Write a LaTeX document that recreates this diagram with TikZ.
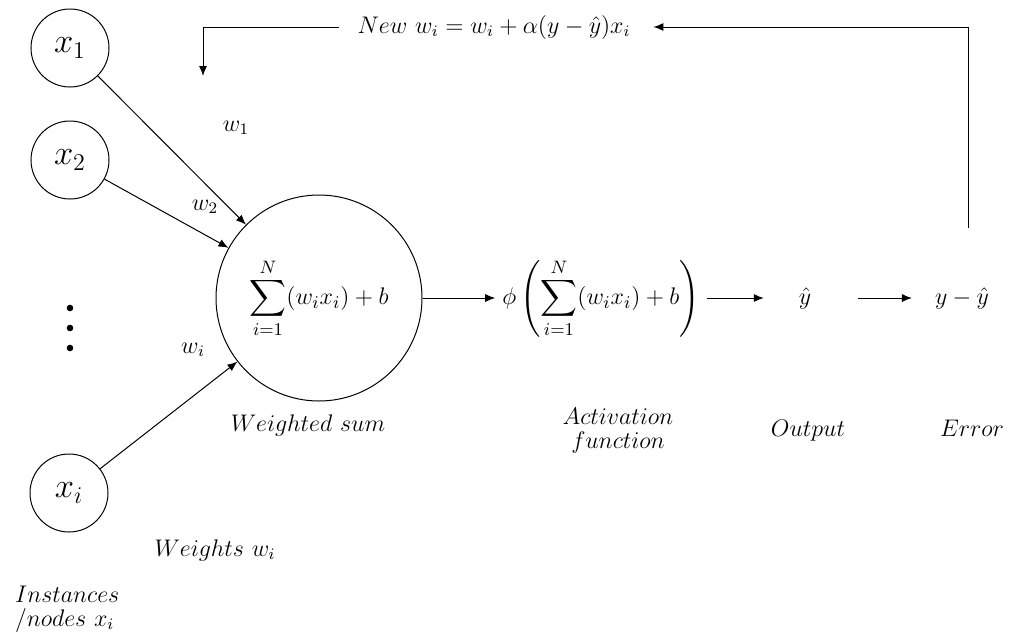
\documentclass[tikz,border=0pt]{standalone}
\usepackage{amsmath}
\usepackage{amssymb}
\usetikzlibrary{arrows.meta,positioning}

\begin{document}
\begin{tikzpicture}[
  x=0.5pt, y=-0.5pt, font=\large,
  arr/.style={-{Latex[length=5pt,width=4pt]}, line width=0.5pt},
  innode/.style={circle, draw, line width=0.5pt, minimum size=39pt, inner sep=0pt, font=\LARGE},
  caption/.style={font=\large, align=center}
]
\useasboundingbox (0,0) rectangle (1011,643);

% Inputs
\node[innode] (x1) at (70,48) {$x_1$};
\node[innode] (x2) at (70,160) {$x_2$};
\node[innode] (xi) at (69,493) {$x_i$};
\foreach \y in {308,328,348} {
  \fill (70,\y) circle (3.3);
}

% Neuron
\node[circle, draw, line width=0.5pt, minimum size=103pt, inner sep=0pt,
      font=\fontsize{12.8}{15}\selectfont] (sum) at (319,298)
  {$\displaystyle\sum_{i=1}^{N}(w_i x_i)+b$};
\node[font=\fontsize{12.8}{15}\selectfont] (act) at (601,298)
  {$\displaystyle\phi\left(\sum_{i=1}^{N}(w_i x_i)+b\right)$};
\node (out) at (805,298) {$\hat{y}$};
\node (err) at (962,298) {$y-\hat{y}$};

% Weighted inputs
\draw[arr] (x1) -- (sum);
\draw[arr] (x2) -- (sum);
\draw[arr] (xi) -- (sum);
\node (w1) at (236,128) {$w_1$};
\node (w2) at (205,207) {$w_2$};
\node (wi) at (193,350) {$w_i$};

% Forward chain
\draw[arr] (sum) -- (act);
\draw[arr, shorten >=14pt] (act) -- (out);
\draw[arr, shorten <=20pt, shorten >=8pt] (out) -- (err);

% Weight update
\node (upd) at (494,27) {$New\ w_i=w_i+\alpha(y-\hat{y})x_i$};
\coordinate (back) at (203,76);
\draw[arr, shorten <=26pt, shorten >=8pt] ([xshift=3pt]err.north) |- (upd.east);
\draw[arr, shorten <=6pt] (upd.west) -| (back);

% Captions
\node[caption] (wsum) at (308,425) {$Weighted\ sum$};
\node[caption] (actlab) at (618,431) {$Activation$\\[-2pt]$function$};
\node[caption, anchor=base] (outlab) at (808,436) {$Output$};
\node[caption, anchor=base] (errlab) at (972,436) {$Error$};
\node[caption] (wlab) at (215,550) {$Weights\ w_i$};
\node[caption, align=left, anchor=west] (inlab) at (8,609) {$Instances$\\[-2pt]$/nodes\ x_i$};

\end{tikzpicture}
\end{document}
